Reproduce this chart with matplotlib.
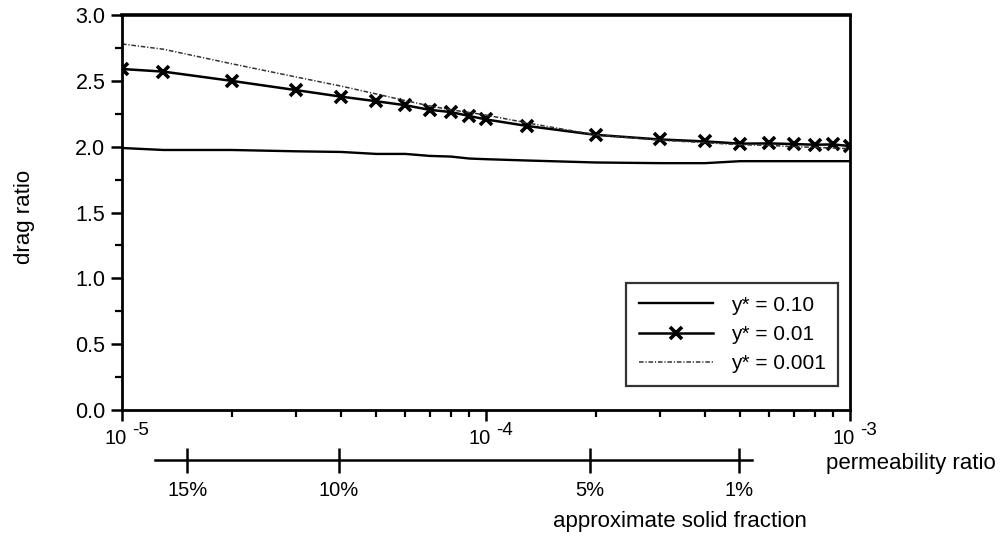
import matplotlib
matplotlib.use("Agg")
import matplotlib.pyplot as plt
from matplotlib.ticker import LogLocator, NullFormatter

plt.rcParams['font.family'] = ['Liberation Sans', 'DejaVu Sans']

# permeability ratio sample points
perm = [1e-5, 1.3e-5, 2e-5, 3e-5, 4e-5, 5e-5, 6e-5, 7e-5, 8e-5, 9e-5,
        1e-4, 1.3e-4, 2e-4, 3e-4, 4e-4, 5e-4, 6e-4, 7e-4, 8e-4, 9e-4, 1e-3]

drag_010 = [1.99, 1.975, 1.975, 1.965, 1.96, 1.945, 1.945, 1.93, 1.925, 1.91,
            1.905, 1.895, 1.88, 1.875, 1.875, 1.89, 1.89, 1.89, 1.89, 1.89, 1.89]
drag_001 = [2.59, 2.57, 2.50, 2.43, 2.38, 2.345, 2.315, 2.28, 2.263, 2.233,
            2.207, 2.157, 2.09, 2.055, 2.04, 2.023, 2.025, 2.02, 2.015, 2.017, 2.005]
drag_0001 = [2.78, 2.74, 2.63, 2.53, 2.46, 2.40, 2.35, 2.31, 2.28, 2.26,
             2.24, 2.18, 2.09, 2.05, 2.03, 2.015, 2.01, 2.0, 1.995, 1.99, 1.985]

# approximate solid fraction scale (positions on the permeability axis)
frac_labels = ['15%', '10%', '5%', '1%']
frac_perm = [1.51e-5, 3.94e-5, 1.93e-4, 4.95e-4]
frac_span = [1.23e-5, 5.38e-4]

major_x = [1e-5, 1e-4, 1e-3]
major_x_exp = ['-5', '-4', '-3']
y_ticks = [0.0, 0.5, 1.0, 1.5, 2.0, 2.5, 3.0]
y_minor = [0.25, 0.75, 1.25, 1.75, 2.25, 2.75]

fig = plt.figure(figsize=(10, 5.36), dpi=100)
ax = fig.add_axes([0.122, 0.235, 0.728, 0.737])

ax.plot(perm, drag_010, color='black', lw=1.7, label='y* = 0.10')
ax.plot(perm, drag_001, color='black', lw=1.8, marker='x', ms=8, mew=2.6,
        label='y* = 0.01')
ax.plot(perm, drag_0001, color='#333333', lw=1.1,
        linestyle=(0, (3, 1.2, 0.8, 1.2)), label='y* = 0.001')

ax.set_xscale('log')
ax.set_xlim(1e-5, 1e-3)
ax.set_ylim(0, 3.0)
ax.set_yticks(y_ticks)
ax.set_yticks(y_minor, minor=True)
ax.set_yticklabels([f'{v:.1f}' for v in y_ticks])
ax.xaxis.set_minor_locator(LogLocator(base=10, subs=range(2, 10)))
ax.xaxis.set_minor_formatter(NullFormatter())
ax.set_xticks(major_x)
ax.set_xticklabels([''] * len(major_x))

# "10 -5" style labels: base plus raised exponent
for v, e in zip(major_x, major_x_exp):
    ax.annotate('10', xy=(v, 0), xycoords=('data', 'axes fraction'),
                xytext=(-4.5, -13.5), textcoords='offset points',
                ha='center', va='top', fontsize=14.5)
    ax.annotate(e, xy=(v, 0), xycoords=('data', 'axes fraction'),
                xytext=(7.5, -8.5), textcoords='offset points',
                ha='left', va='top', fontsize=13.5)

for s in ax.spines.values():
    s.set_linewidth(2)
ax.spines['top'].set_linewidth(2.6)
ax.tick_params(which='major', direction='out', length=8, width=1.8, pad=4)
ax.tick_params(axis='y', labelsize=15.5, pad=4)
ax.tick_params(which='minor', direction='out', length=5, width=1.6)
ax.set_ylabel('drag ratio', fontsize=16)
ax.yaxis.set_label_coords(-0.119, 0.49)

leg = ax.legend(loc='lower right', bbox_to_anchor=(0.9835, 0.061),
                borderaxespad=0, fontsize=15, frameon=True, fancybox=False,
                handlelength=3.55, handletextpad=0.85, labelspacing=0.5,
                borderpad=0.6)
leg.get_frame().set_edgecolor('black')
leg.get_frame().set_linewidth(1.6)

# secondary scale: approximate solid fraction
ax2 = fig.add_axes([0.122, 1 - 460 / 536, 0.728, 0.01])
ax2.patch.set_visible(False)
ax2.set_xscale('log')
ax2.set_xlim(1e-5, 1e-3)
ax2.set_yticks([])
for k in ['top', 'left', 'right']:
    ax2.spines[k].set_visible(False)
ax2.spines['bottom'].set_linewidth(1.8)
ax2.spines['bottom'].set_bounds(*frac_span)
ax2.xaxis.set_minor_locator(plt.NullLocator())
ax2.set_xticks(frac_perm)
ax2.set_xticklabels(frac_labels)
ax2.tick_params(axis='x', direction='inout', length=18, width=1.8,
                labelsize=14.5, pad=6)

fig.text(0.826, 1 - 463 / 536, 'permeability ratio', fontsize=16,
         ha='left', va='center')
fig.text(0.553, 1 - 521 / 536, 'approximate solid fraction', fontsize=16,
         ha='left', va='center')

fig.savefig('out.png', dpi=100)
